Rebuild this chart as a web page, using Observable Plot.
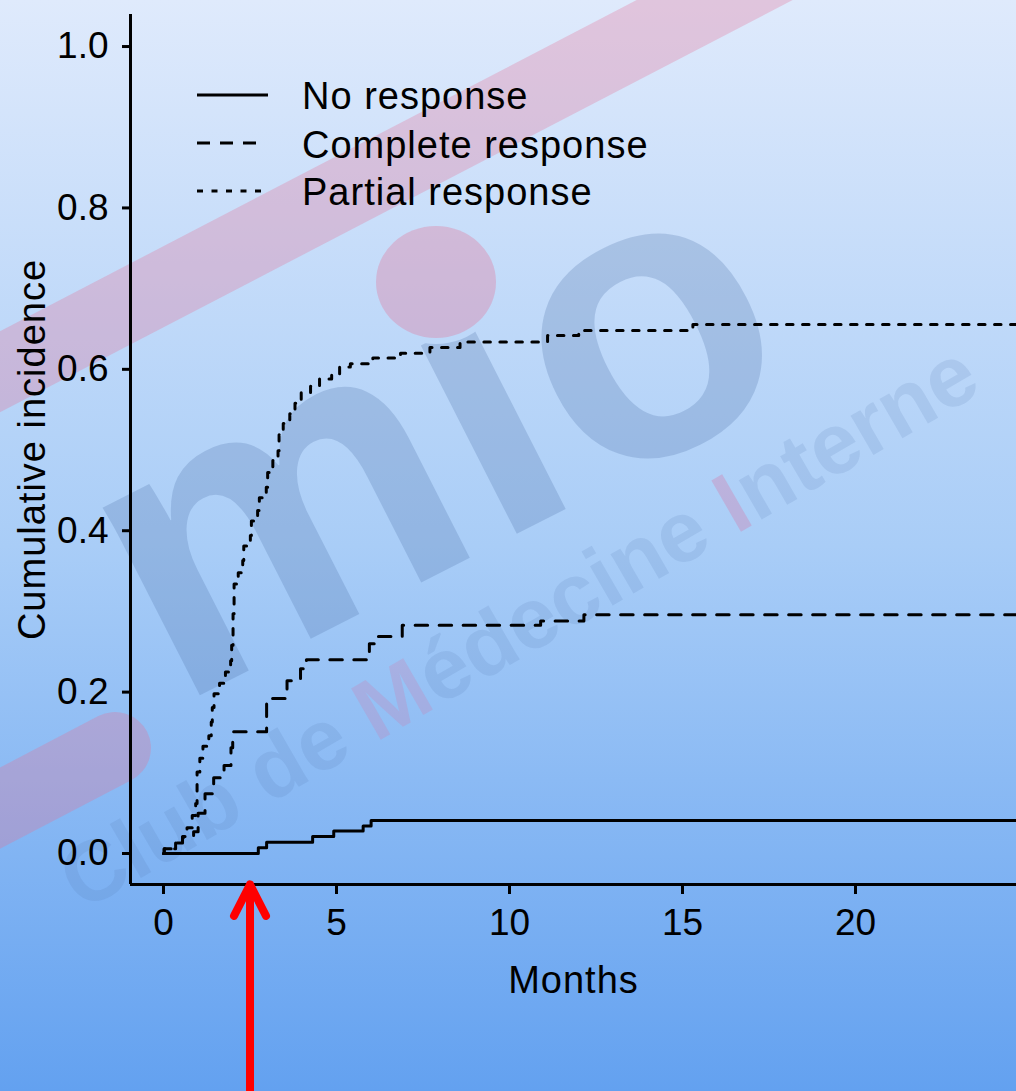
<!DOCTYPE html>
<html>
<head>
<meta charset="utf-8">
<script src="https://cdn.jsdelivr.net/npm/d3@7"></script>
<script src="https://cdn.jsdelivr.net/npm/@observablehq/plot@0.6"></script>
<style>
  html, body { margin: 0; padding: 0; }
  body {
    width: 1016px; height: 1091px; overflow: hidden; position: relative;
    background: linear-gradient(to bottom, #dfeafc 0%, #a9cdf7 50%, #63a1f0 100%);
    font-family: "Liberation Sans", Arial, Helvetica, sans-serif;
  }
  #wm, #chart, #legend { position: absolute; left: 0; top: 0; }
</style>
</head>
<body>
<svg id="wm" width="1016" height="1091">
  <defs>
    <mask id="nodot" maskUnits="userSpaceOnUse" x="0" y="0" width="1016" height="1091">
      <rect x="0" y="0" width="1016" height="1091" fill="white"></rect>
      <ellipse cx="436" cy="282" rx="66" ry="62" fill="black"></ellipse>
    </mask>
  </defs>
  <g fill="none" stroke="rgba(228,112,150,0.30)" stroke-width="72" stroke-linecap="round">
    <line x1="-60" y1="403" x2="830" y2="-60"></line>
    <line x1="-80" y1="850" x2="115" y2="748"></line>
  </g>
  <g mask="url(#nodot)">
    <text x="175" y="708" transform="rotate(-27 175 708)" font-family="Liberation Sans, Arial, sans-serif"
          font-weight="bold" font-size="400" fill="rgba(80,115,170,0.26)">mio</text>
  </g>
  <ellipse cx="436" cy="282" rx="60" ry="56" fill="rgba(228,112,150,0.33)"></ellipse>
  <text x="82" y="912" transform="rotate(-30 82 912)" font-family="Liberation Sans, Arial, sans-serif"
        font-weight="bold" font-size="86" fill="rgba(80,115,170,0.14)">Club de <tspan fill="rgba(220,110,160,0.22)">M</tspan>édecine <tspan fill="rgba(220,110,160,0.3)">I</tspan>nterne</text>
</svg>
<div id="chart"></div>
<svg id="legend" width="1016" height="260">
  <g stroke="black" stroke-width="3">
    <line x1="197" y1="95" x2="268" y2="95"></line>
    <line x1="197" y1="143" x2="258" y2="143" stroke-dasharray="13,10"></line>
    <line x1="197" y1="191" x2="268" y2="191" stroke-dasharray="6,8.5"></line>
  </g>
  <g font-family="Liberation Sans, Arial, sans-serif" font-size="38" letter-spacing="1" fill="black">
    <text id="lg0" x="302" y="96" dy="0.35em"></text>
    <text id="lg1" x="302" y="145" dy="0.35em"></text>
    <text id="lg2" x="302" y="192" dy="0.35em"></text>
  </g>
</svg>
<script>
// ---- data ----
const seriesNames = ["No response", "Complete response", "Partial response"];

const noRespMonths = [0, 2.74, 2.98, 4.31, 4.92, 5.77, 6.0, 26];
const noRespValues = [0, 0.007, 0.014, 0.021, 0.028, 0.034, 0.041, 0.041];

const completeMonths = [0, 0.02, 0.35, 0.55, 0.87, 1.0, 1.2, 1.45, 1.75, 1.95, 2.0, 2.98, 3.57, 3.96, 4.13, 5.95, 6.2, 6.9, 10.9, 12.15, 26];
const completeValues = [0, 0.006, 0.013, 0.02, 0.027, 0.05, 0.074, 0.094, 0.109, 0.131, 0.151, 0.192, 0.214, 0.229, 0.240, 0.260, 0.269, 0.283, 0.288, 0.296, 0.296];

const partialMonths = [0, 0.02, 0.35, 0.55, 0.68, 0.83, 0.93, 0.97, 1.05, 1.14, 1.31, 1.38, 1.41, 1.46, 1.62, 1.79, 1.94, 1.97, 2.01, 2.04, 2.16, 2.29, 2.32, 2.51, 2.54, 2.72, 2.77, 2.97, 3.01, 3.16, 3.31, 3.34, 3.46, 3.65, 3.8, 3.98, 4.25, 4.51, 4.86, 5.09, 5.4, 6.05, 6.85, 7.7, 8.57, 11.1, 12.0, 15.3, 26];
const partialValues = [0, 0.006, 0.013, 0.021, 0.032, 0.047, 0.062, 0.101, 0.118, 0.133, 0.146, 0.163, 0.181, 0.198, 0.211, 0.225, 0.239, 0.258, 0.297, 0.334, 0.348, 0.363, 0.381, 0.394, 0.412, 0.425, 0.441, 0.454, 0.472, 0.487, 0.499, 0.519, 0.533, 0.545, 0.558, 0.571, 0.579, 0.588, 0.593, 0.603, 0.607, 0.614, 0.620, 0.627, 0.634, 0.642, 0.648, 0.6555, 0.6555];

const xTicks = [0, 5, 10, 15, 20];
const yTicks = [0, 0.2, 0.4, 0.6, 0.8, 1.0];
const xLabel = "Months";
const yLabel = "Cumulative incidence";
const arrowMonths = [2.5];

const xDomain = [-0.954, 24.653];
const yDomain = [-0.0384, 1.0397];

const toRows = (ms, vs) => ms.map((m, i) => ({month: m, value: vs[i]}));
const noResp = toRows(noRespMonths, noRespValues);
const complete = toRows(completeMonths, completeValues);
const partial = toRows(partialMonths, partialValues);

const font = "'Liberation Sans', Arial, Helvetica, sans-serif";

const chart = Plot.plot({
  width: 1016,
  height: 1091,
  marginLeft: 130,
  marginRight: 0,
  marginTop: 14,
  marginBottom: 207,
  x: {domain: xDomain},
  y: {domain: yDomain},
  style: {background: "transparent", fontFamily: font, fontSize: "37px", color: "black", overflow: "visible"},
  marks: [
    Plot.axisY({ticks: yTicks, tickFormat: d3.format(".1f"), tickSize: 8, tickPadding: 14, strokeWidth: 3, label: null, fontSize: 37}),
    Plot.axisX({ticks: xTicks, tickSize: 10, tickPadding: 14, strokeWidth: 3, label: null, fontSize: 37}),
    Plot.ruleX([xDomain[0]], {stroke: "black", strokeWidth: 3}),
    Plot.ruleY([yDomain[0]], {stroke: "black", strokeWidth: 3}),
    Plot.line(noResp, {x: "month", y: "value", curve: "step-after", stroke: "black", strokeWidth: 3, clip: true}),
    Plot.line(complete, {x: "month", y: "value", curve: "step-after", stroke: "black", strokeWidth: 3, strokeDasharray: "12.5,11.5", clip: true}),
    Plot.line(partial, {x: "month", y: "value", curve: "step-after", stroke: "black", strokeWidth: 3, strokeDasharray: "6.5,9.5", clip: true}),
    Plot.text([xLabel], {text: d => d, frameAnchor: "bottom", lineAnchor: "middle", dy: 96, fontSize: 38}),
    Plot.text([yLabel], {text: d => d, frameAnchor: "left", textAnchor: "middle", lineAnchor: "middle", dx: -98, rotate: -90, fontSize: 38}),
    Plot.arrow(arrowMonths, {x1: d => d, x2: d => d, y1: () => -0.33, y2: () => yDomain[0], stroke: "#ff0000", strokeWidth: 8, headLength: 6.6, headAngle: 54, strokeLinecap: "round", strokeLinejoin: "round"})
  ]
});
d3.select(chart).selectAll('g[aria-label="text"] text').attr("letter-spacing", "1");
document.getElementById("chart").appendChild(chart);
seriesNames.forEach((n, i) => { document.getElementById("lg" + i).textContent = n; });
</script>
</body>
</html>
